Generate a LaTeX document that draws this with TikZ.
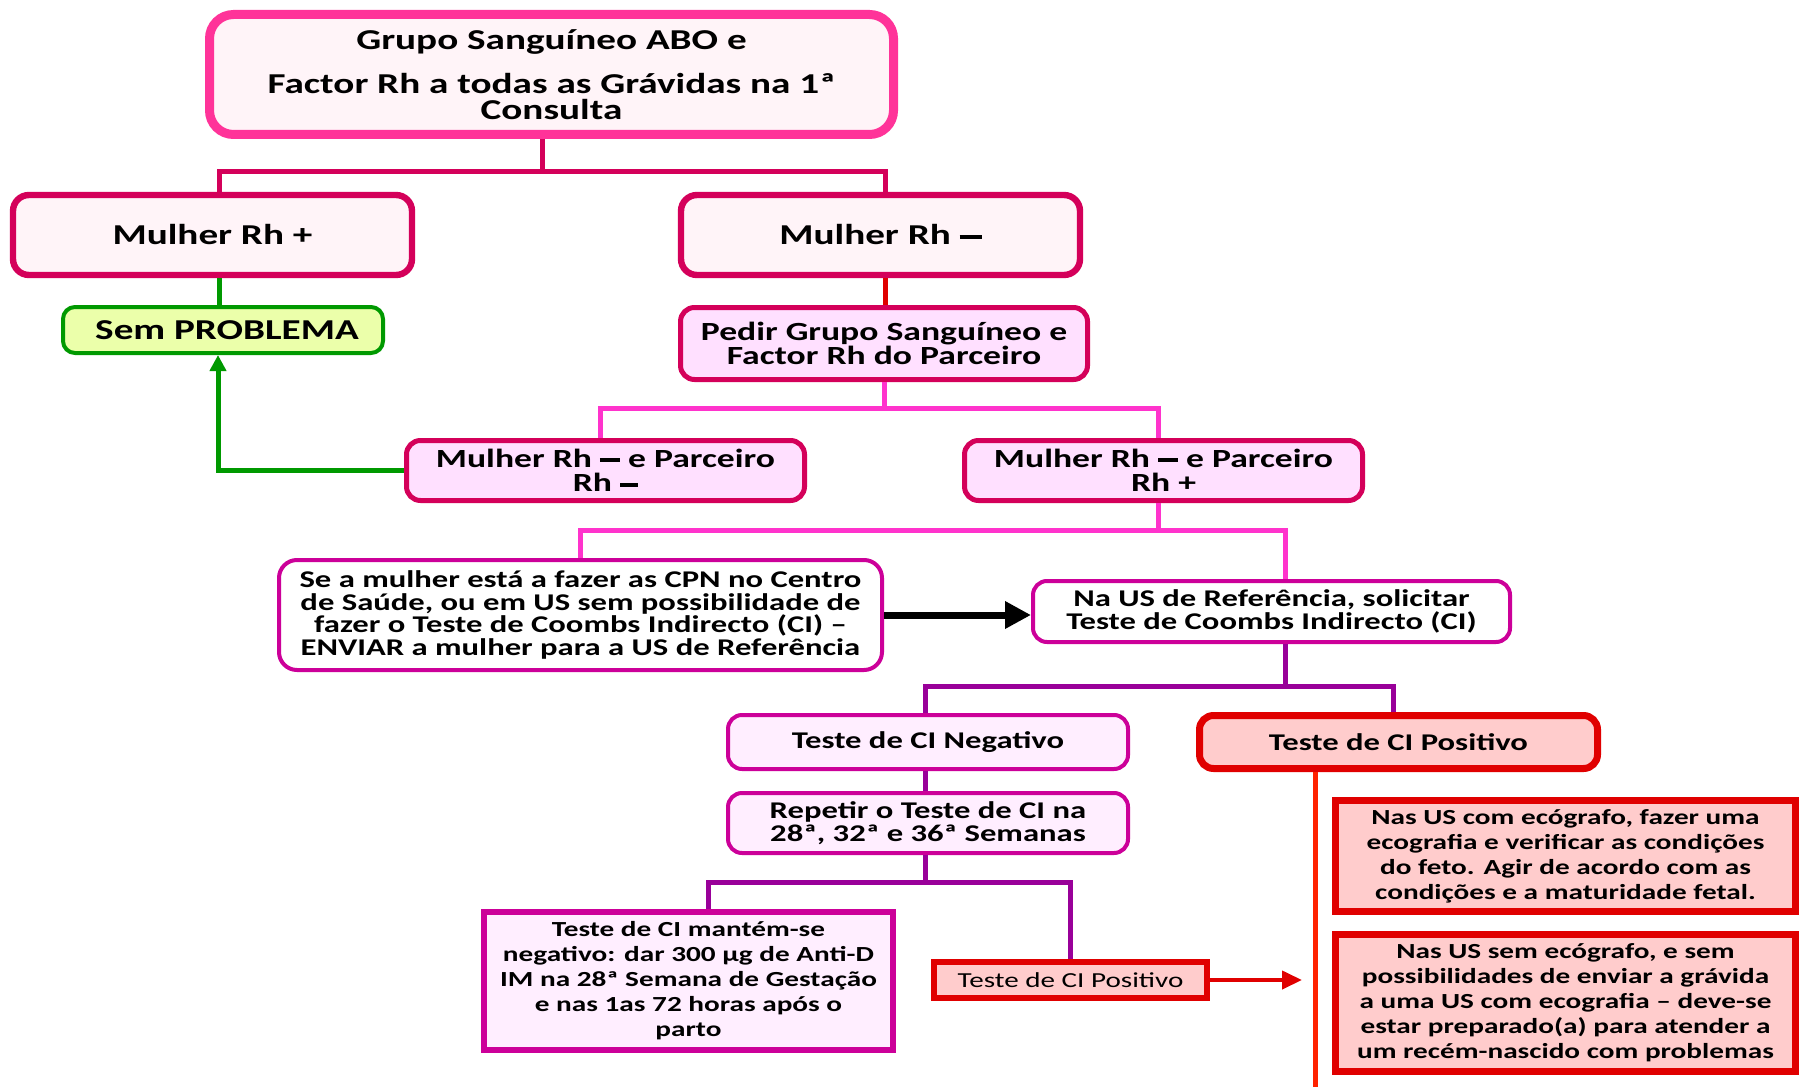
\documentclass[tikz,border=0pt]{standalone}
\usepackage{fontspec}
\newfontfamily\cf{Carlito}[FakeStretch=1.36]
\usetikzlibrary{arrows.meta,calc}
\newcommand\rhdash[1]{\rule[0.2em]{#1}{0.15em}}
\definecolor{topb}{HTML}{FF3399}
\definecolor{topf}{HTML}{FFF4F8}
\definecolor{crim}{HTML}{D4005A}
\definecolor{semf}{HTML}{EBFFAA}
\definecolor{grn}{HTML}{009900}
\definecolor{redl}{HTML}{E00000}
\definecolor{pedf}{HTML}{FFE0FF}
\definecolor{pnk}{HTML}{FF33CC}
\definecolor{mag}{HTML}{CC0099}
\definecolor{purp}{HTML}{990099}
\definecolor{ltp}{HTML}{FFEEFF}
\definecolor{rosef}{HTML}{FFCCCC}
\definecolor{orl}{HTML}{FF2200}
\begin{document}
\begin{tikzpicture}[x=0.5pt,y=-0.5pt,
  bx/.style={draw, align=center, inner sep=0pt, text=black},
  fA/.style={font=\cf\bfseries\fontsize{14.4pt}{13pt}\selectfont},
  fB/.style={font=\cf\bfseries\fontsize{13.1pt}{12.3pt}\selectfont},
  fC/.style={font=\cf\bfseries\fontsize{12pt}{11.3pt}\selectfont},
  fD/.style={font=\cf\bfseries\fontsize{10.75pt}{12.5pt}\selectfont},
  conn/.style={line width=2.5pt, line join=miter}
]
\fill[white] (0,0) rectangle (1802,1091);
\useasboundingbox (0,0) rectangle (1802,1091);

% nodes
\node[bx, fA, draw=topb, fill=topf, line width=4.5pt, rounded corners=12pt,
  minimum width=342pt, minimum height=60pt] (top) at (551.5,74.5)
  {Grupo Sanguíneo ABO e\\[9pt]Factor Rh a todas as Grávidas na 1ª\\Consulta};
\node[bx, fA, draw=crim, fill=topf, line width=3.2pt, rounded corners=8pt,
  minimum width=199.5pt, minimum height=40pt] (rhp) at (212.5,235) {Mulher Rh +};
\node[bx, fA, draw=crim, fill=topf, line width=3.2pt, rounded corners=8pt,
  minimum width=199.5pt, minimum height=40pt] (rhn) at (880.5,235) {Mulher Rh \rhdash{11pt}};
\node[bx, fA, draw=grn, fill=semf, line width=2pt, rounded corners=6pt,
  minimum width=160pt, minimum height=23pt] (sem) at (223,330) {\hspace{4pt}Sem PROBLEMA};
\node[bx, fB, draw=crim, fill=pedf, line width=2.5pt, rounded corners=7pt,
  minimum width=203.5pt, minimum height=36pt] (pedir) at (884,343.5)
  {Pedir Grupo Sanguíneo e\\Factor Rh do Parceiro};
\node[bx, fB, draw=crim, fill=pedf, line width=2.5pt, rounded corners=7pt,
  minimum width=199pt, minimum height=30pt] (nn) at (605.5,470.5)
  {Mulher Rh \rhdash{10pt} e Parceiro\\Rh \rhdash{9pt}};
\node[bx, fB, draw=crim, fill=pedf, line width=2.5pt, rounded corners=7pt,
  minimum width=199pt, minimum height=30pt] (np) at (1163.5,470.5)
  {Mulher Rh \rhdash{10pt} e Parceiro\\Rh +};
\node[bx, fC, draw=mag, fill=white, line width=2pt, rounded corners=9pt,
  minimum width=301.5pt, minimum height=55pt] (se) at (580.5,615)
  {Se a mulher está a fazer as CPN no Centro\\de Saúde, ou em US sem possibilidade de\\fazer o Teste de Coombs Indirecto (CI) –\\ENVIAR a mulher para a US de Referência};
\node[bx, fC, draw=mag, fill=white, line width=2pt, rounded corners=7pt,
  minimum width=238.5pt, minimum height=30.5pt] (naus) at (1271.5,611.5)
  {Na US de Referência, solicitar\\Teste de Coombs Indirecto (CI)};
\node[bx, fC, draw=mag, fill=ltp, line width=2pt, rounded corners=7pt,
  minimum width=200pt, minimum height=27pt] (neg) at (928,742) {Teste de CI Negativo};
\node[bx, fC, draw=redl, fill=rosef, line width=3.5pt, rounded corners=7pt,
  minimum width=199pt, minimum height=26.5pt] (pos) at (1398.5,742) {Teste de CI Positivo};
\node[bx, fC, draw=mag, fill=ltp, line width=2pt, rounded corners=7pt,
  minimum width=200pt, minimum height=30pt] (rep) at (928,823)
  {Repetir o Teste de CI na\\28ª, 32ª e 36ª Semanas};
\node[bx, fD, draw=mag, fill=ltp, line width=3pt,
  minimum width=204.5pt, minimum height=69pt] (mant) at (688.5,981)
  {Teste de CI mantém-se\\negativo: dar 300 µg de Anti-D\\IM na 28ª Semana de Gestação\\e nas 1as 72 horas após o\\parto};
\node[bx, font=\cf\fontsize{10.7pt}{12pt}\selectfont, draw=redl, fill=rosef, line width=3pt,
  minimum width=136.5pt, minimum height=18pt] (spos) at (1070.5,980) {Teste de CI Positivo};
\node[bx, fD, draw=redl, fill=rosef, line width=3.5pt,
  minimum width=230pt, minimum height=55.5pt] (ra) at (1565.5,856)
  {Nas US com ecógrafo, fazer uma\\ecografia e verificar as condições\\do feto. Agir de acordo com as\\condições e a maturidade fetal.};
\node[bx, fD, draw=redl, fill=rosef, line width=3.5pt,
  minimum width=230pt, minimum height=68.5pt] (rb) at (1565.5,1003)
  {Nas US sem ecógrafo, e sem\\possibilidades de enviar a grávida\\a uma US com ecografia – deve-se\\estar preparado(a) para atender a\\um recém-nascido com problemas};

% helper coordinates
\coordinate (b1) at (0,172);
\coordinate (b2) at (0,408);
\coordinate (b3) at (0,530);
\coordinate (b4) at (0,686);
\coordinate (b5) at (0,882);
\coordinate (topout) at ([xshift=-4.75pt]top.south);
\coordinate (rhpin) at ([xshift=3.25pt]rhp.north);
\coordinate (rhpout) at ([xshift=3.25pt]rhp.south);
\coordinate (rhnin) at ([xshift=2.25pt]rhn.north);
\coordinate (rhnout) at ([xshift=2.25pt]rhn.south);
\coordinate (semin) at ([xshift=-2.5pt]sem.south);
\coordinate (nnin) at ([xshift=-2.75pt]nn.north);
\coordinate (npin) at ([xshift=-2.75pt]np.north);
\coordinate (npout) at ([xshift=-2.75pt]np.south);
\coordinate (nausin) at ([xshift=6.75pt]naus.north);
\coordinate (nausout) at ([xshift=6.75pt]naus.south);
\coordinate (negin) at ([xshift=-1.5pt]neg.north);
\coordinate (negout) at ([xshift=-1.5pt]neg.south);
\coordinate (repin) at ([xshift=-1.5pt]rep.north);
\coordinate (repout) at ([xshift=-1.5pt]rep.south);
\coordinate (posin) at ([xshift=-2.75pt]pos.north);
\coordinate (mantin) at ([xshift=10pt]mant.north);
\coordinate (rarr) at (1302,980);
\coordinate (rend) at (1315,1087);

% connectors
\draw[conn, crim] (topout) -- (topout |- b1);
\draw[conn, crim] (rhpin) -- (rhpin |- b1) -- (rhnin |- b1) -- (rhnin);
\draw[conn, grn] (rhpout) -- (rhpout |- sem.north);
\draw[conn, grn, -{Triangle[length=8pt,width=8pt]}] (nn.west) -| (semin);
\draw[conn, redl] (rhnout) -- (rhnout |- pedir.north);
\draw[conn, pnk] (pedir.south) -- (pedir.south |- b2);
\draw[conn, pnk] (nnin) -- (nnin |- b2) -- (npin |- b2) -- (npin);
\draw[conn, pnk] (npout) -- (npout |- b3);
\draw[conn, pnk] (se.north) -- (se.north |- b3) -- (nausin |- b3) -- (nausin);
\draw[line width=3.5pt, black, -{Triangle[length=13pt,width=13pt]}] (se.east) -- (se.east -| naus.west);
\draw[conn, purp] (nausout) -- (nausout |- b4);
\draw[conn, purp] (negin) -- (negin |- b4) -- (posin |- b4) -- (posin);
\draw[conn, purp] (negout) -- (repin);
\draw[conn, purp] (repout) -- (repout |- b5);
\draw[conn, purp] (mantin) -- (mantin |- b5) -- (spos.north |- b5) -- (spos.north);
\draw[line width=2pt, redl, -{Triangle[length=10pt,width=9pt]}] (spos.east) -- (rarr);
\draw[conn, orl] (pos.south -| rend) -- (rend);
\end{tikzpicture}
\end{document}
